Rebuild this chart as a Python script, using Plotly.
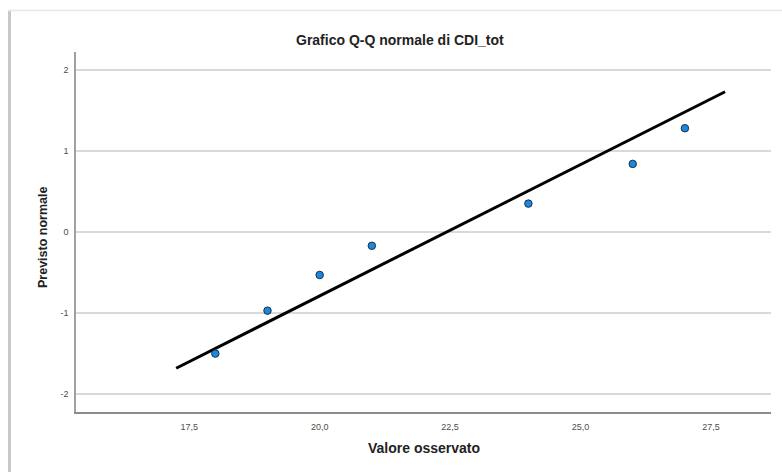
import plotly.graph_objects as go

# Observed CDI_tot values and their expected normal scores
observed = [18, 19, 20, 21, 24, 26, 27]
expected_normal = [-1.50, -0.97, -0.53, -0.17, 0.35, 0.84, 1.28]

# Reference line end points (observed, expected)
ref_x = [17.25, 27.77]
ref_y = [-1.68, 1.73]

x_ticks = [17.5, 20.0, 22.5, 25.0, 27.5]
x_tick_labels = ["17,5", "20,0", "22,5", "25,0", "27,5"]
y_ticks = [-2, -1, 0, 1, 2]
y_tick_labels = ["-2", "-1", "0", "1", "2"]

W, H = 782, 472
L, R, T, B = 76, 11, 52, 60
pw, ph = W - L - R, H - T - B


def px(xp):
    return (xp - L) / pw


def py(yp):
    return (H - B - yp) / ph


font = "Liberation Sans, Arial, sans-serif"

fig = go.Figure()
fig.add_trace(go.Scatter(
    x=ref_x, y=ref_y, mode="lines",
    line=dict(color="#000000", width=3),
    hoverinfo="skip", showlegend=False,
))
fig.add_trace(go.Scatter(
    x=observed, y=expected_normal, mode="markers",
    marker=dict(size=7.5, color="#1a87e0", line=dict(color="#1d2f45", width=1)),
    showlegend=False,
))

fig.update_layout(
    width=W, height=H,
    margin=dict(l=L, r=R, t=T, b=B),
    paper_bgcolor="#ffffff",
    plot_bgcolor="#ffffff",
    font=dict(family=font, color="#4d4d4d", size=9),
    xaxis=dict(
        range=[15.33, 28.65],
        tickvals=x_ticks, ticktext=x_tick_labels,
        showgrid=False, zeroline=False,
        showline=True, linecolor="#8c8c8c", linewidth=2,
        ticks="", ticklabelstandoff=5,
        tickfont=dict(size=9, color="#4d4d4d"),
    ),
    yaxis=dict(
        range=[-2.22, 2.22],
        tickvals=y_ticks, ticktext=y_tick_labels,
        showgrid=True, gridcolor="#d9d9d9", gridwidth=1.5,
        zeroline=False,
        showline=True, linecolor="#a0a0a0", linewidth=1.5,
        ticks="", ticklabelstandoff=4,
        tickfont=dict(size=9, color="#4d4d4d"),
    ),
    annotations=[
        dict(text="<b>Grafico Q-Q normale di CDI_tot</b>", xref="paper", yref="paper",
             x=px(400), y=py(40), showarrow=False, xanchor="center", yanchor="middle",
             font=dict(family=font, size=14, color="#222222")),
        dict(text="<b>Valore osservato</b>", xref="paper", yref="paper",
             x=px(424), y=py(448), showarrow=False, xanchor="center", yanchor="middle",
             font=dict(family=font, size=14, color="#222222")),
        dict(text="<b>Previsto normale</b>", xref="paper", yref="paper",
             x=px(43), y=py(238), showarrow=False, xanchor="center", yanchor="middle",
             textangle=-90,
             font=dict(family=font, size=12.5, color="#222222")),
    ],
    shapes=[
        # panel frame: shadowed left edge and thin top edge
        dict(type="rect", xref="paper", yref="paper",
             x0=px(8), x1=px(11), y0=py(H), y1=py(10),
             fillcolor="#c8c8c8", line=dict(width=0), layer="below"),
        dict(type="line", xref="paper", yref="paper",
             x0=px(8), x1=px(W), y0=py(10.5), y1=py(10.5),
             line=dict(color="#e6e6e6", width=1.5), layer="below"),
    ],
)

fig.write_html("out.html")
